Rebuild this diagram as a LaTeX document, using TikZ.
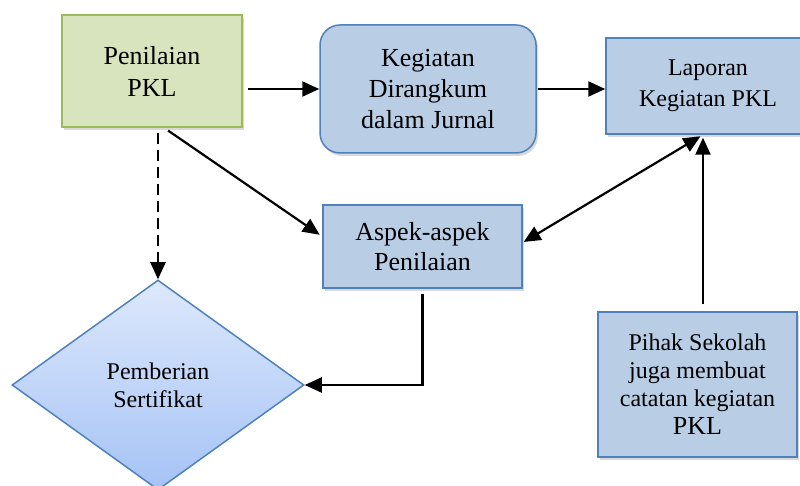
\documentclass[tikz,border=0pt]{standalone}
\usepackage{fontspec}
\setmainfont{Liberation Serif}
\usetikzlibrary{arrows.meta,shapes.geometric,shadows}
\definecolor{gfill}{HTML}{D7E4BD}
\definecolor{gline}{HTML}{9BBB59}
\definecolor{bfill}{HTML}{B9CDE5}
\definecolor{bline}{HTML}{4F81BD}
\definecolor{dtop}{HTML}{DDE8FC}
\definecolor{dbot}{HTML}{A5C3F5}
\begin{document}
\begin{tikzpicture}[x=1pt,y=-1pt,
  shad/.style={drop shadow={opacity=0.3,shadow xshift=2pt,shadow yshift=-3pt}},
  box/.style={draw=bline, fill=bfill, line width=1.5pt, align=center, inner sep=0pt, shad},
  gbox/.style={draw=gline, fill=gfill, line width=1.5pt, align=center, inner sep=0pt, shad},
  arr/.style={line width=2.2pt, -{Triangle[length=17pt,width=15pt]}},
  darr/.style={line width=2.2pt, {Triangle[length=17pt,width=15pt]}-{Triangle[length=17pt,width=15pt]}}
]
\useasboundingbox (0,0) rectangle (800,486);
\clip (0,0) rectangle (800,486);

\node[gbox, minimum width=180pt, minimum height=112pt, font=\fontsize{26}{32}\selectfont] (pen) at (152,71) {Penilaian\\PKL};
\node[box, rounded corners=20pt, minimum width=216pt, minimum height=128pt, font=\fontsize{26}{31}\selectfont] (keg) at (428,89) {Kegiatan\\Dirangkum\\dalam Jurnal};
\node[box, minimum width=204pt, minimum height=96pt, font=\fontsize{24}{31}\selectfont] (lap) at (708,86) {Laporan\\Kegiatan PKL};
\node[box, minimum width=199pt, minimum height=83pt, font=\fontsize{26}{30}\selectfont] (asp) at (422.5,246.5) {Aspek-aspek\\Penilaian};
\node[diamond, draw=bline, line width=1.5pt, top color=dtop, bottom color=dbot, minimum width=292pt, minimum height=210pt, inner sep=0pt, align=center, font=\fontsize{24}{28}\selectfont] (cert) at (158,385) {Pemberian\\Sertifikat};
\node[box, minimum width=199pt, minimum height=145pt, font=\fontsize{24}{28}\selectfont] (pihak) at (697.5,384.5) {Pihak Sekolah\\juga membuat\\catatan kegiatan\\{\fontsize{26}{31}\selectfont PKL}};

\draw[arr, shorten <=5pt] (pen.east |- keg.west) -- (keg.west);
\draw[arr, shorten <=1pt] (keg.east) -- (keg.east -| lap.west);
\draw[arr, dashed, dash pattern=on 11pt off 6pt, shorten <=5pt] (pen.south -| cert.north) -- (cert.north);
\draw[arr, shorten <=5pt, shorten >=3pt] ([xshift=12pt]pen.south) -- ([yshift=10pt]asp.west);
\draw[darr, shorten <=3pt, shorten >=1pt] ([xshift=-5pt]lap.south) -- ([yshift=4pt]asp.east);
\draw[arr, shorten <=7pt, shorten >=3pt] ([xshift=5.5pt]pihak.north) -- ([xshift=-5pt]lap.south);
\draw[arr, shorten <=5pt] (asp.south) |- (cert.east);
\end{tikzpicture}
\end{document}
